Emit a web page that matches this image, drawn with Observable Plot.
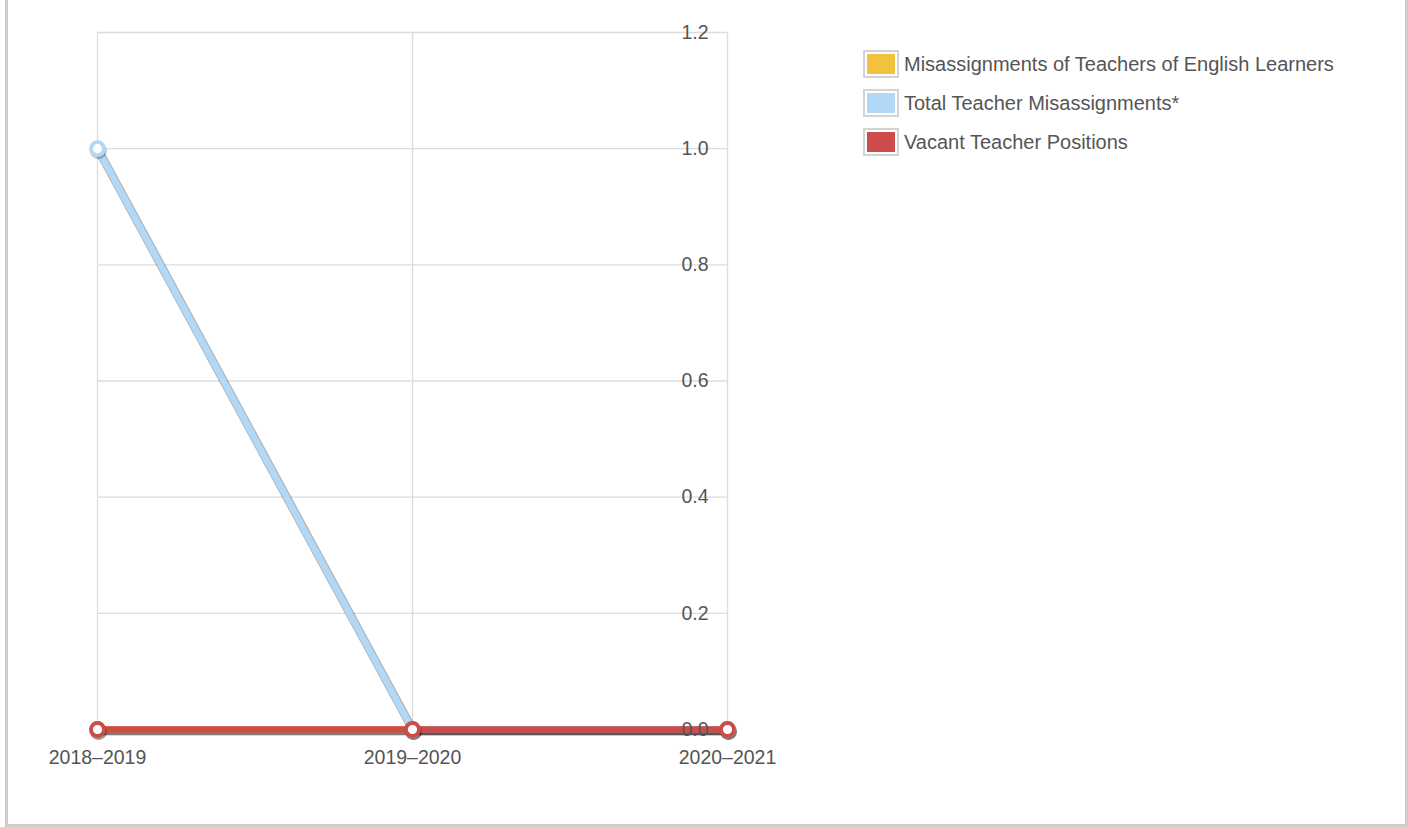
<!DOCTYPE html>
<html>
<head>
<meta charset="utf-8">
<script src="https://cdn.jsdelivr.net/npm/d3@7"></script>
<script src="https://cdn.jsdelivr.net/npm/@observablehq/plot@0.6"></script>
<style>
  html, body { margin: 0; padding: 0; background: #fff; overflow: hidden; }
  body { width: 1408px; height: 827px; position: relative; font-family: "Liberation Sans", Arial, Helvetica, sans-serif; }
  #frame { position: absolute; left: 5px; top: -5px; width: 1403px; height: 832px; box-sizing: border-box; border: 3px solid #cdcdcd; }
  #chart { position: absolute; left: 0; top: 0; }
  #legend { position: absolute; left: 863px; top: 50px; }
  .item { display: flex; align-items: center; height: 28px; margin-bottom: 11px; }
  .sw { width: 28px; height: 20px; border: 2px solid #d4d4d4; padding: 2px; background-clip: content-box; box-sizing: content-box; }
  .lab { margin-left: 5px; font-size: 20px; color: #555; white-space: nowrap; }
</style>
</head>
<body>
<div id="frame"></div>
<div id="chart"></div>
<div id="legend"></div>
<script>
const years = ["2018–2019", "2019–2020", "2020–2021"];
const seriesNames = ["Misassignments of Teachers of English Learners", "Total Teacher Misassignments*", "Vacant Teacher Positions"];
const seriesColors = ["#f0c23e", "#b1d8f7", "#cc4b4b"];
const englishLearnerMisassignments = [0, 0, 0];
const totalMisassignments = [1, 0, 0];
const vacantPositions = [0, 0, 0];
const yTicks = [0, 0.2, 0.4, 0.6, 0.8, 1.0, 1.2];

const seriesValues = [englishLearnerMisassignments, totalMisassignments, vacantPositions];
const rows = [];
seriesNames.forEach((s, i) => years.forEach((yr, j) => rows.push({series: s, year: yr, value: seriesValues[i][j]})));

const seriesMarks = [];
seriesNames.forEach((s, i) => {
  const d = rows.filter(r => r.series === s);
  seriesMarks.push(Plot.line(d, {x: "year", y: "value", stroke: "#000", strokeOpacity: 0.3, strokeWidth: 8.5, dx: 1, dy: 1.5}));
  seriesMarks.push(Plot.line(d, {x: "year", y: "value", stroke: seriesColors[i], strokeWidth: 6.5}));
  seriesMarks.push(Plot.dot(d, {x: "year", y: "value", r: 8.5, fill: "#000", fillOpacity: 0.22, stroke: "none", dx: 1, dy: 2}));
  seriesMarks.push(Plot.dot(d, {x: "year", y: "value", r: 6.5, fill: "#fff", stroke: seriesColors[i], strokeWidth: 3.8}));
});

const chart = Plot.plot({
  width: 1408,
  height: 827,
  marginLeft: 97,
  marginRight: 681,
  marginTop: 32,
  marginBottom: 98,
  style: {fontFamily: '"Liberation Sans", Arial, Helvetica, sans-serif', color: "#555", background: "transparent", overflow: "visible"},
  x: {type: "point", domain: years, padding: 0},
  y: {domain: [0, 1.2]},
  marks: [
    Plot.gridX(years, {stroke: "#dcdcdc", strokeOpacity: 1, strokeWidth: 1.3}),
    Plot.gridY(yTicks, {stroke: "#dcdcdc", strokeOpacity: 1, strokeWidth: 1.3}),
    ...seriesMarks,
    Plot.axisY(yTicks, {anchor: "right", tickSize: 0, tickPadding: 0, dx: -19, textAnchor: "end", tickFormat: d3.format(".1f"), fontSize: 19.5, fill: "#555", label: null}),
    Plot.axisX(years, {tickSize: 0, tickPadding: 21, fontSize: 19.5, fill: "#555", label: null})
  ]
});
document.getElementById("chart").appendChild(chart);

const legend = document.getElementById("legend");
seriesNames.forEach((s, i) => {
  const item = document.createElement("div");
  item.className = "item";
  const sw = document.createElement("div");
  sw.className = "sw";
  sw.style.backgroundColor = seriesColors[i];
  const lab = document.createElement("span");
  lab.className = "lab";
  lab.textContent = s;
  item.appendChild(sw);
  item.appendChild(lab);
  legend.appendChild(item);
});
</script>
</body>
</html>
